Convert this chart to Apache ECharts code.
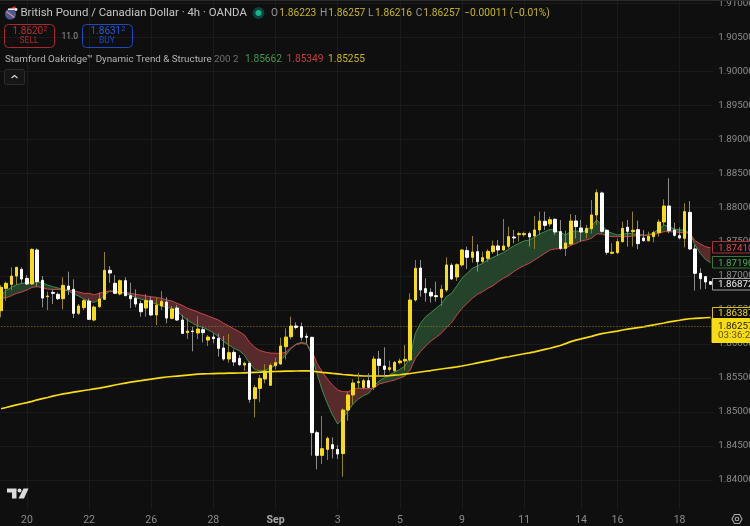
<!DOCTYPE html>
<html>
<head>
<meta charset="utf-8">
<style>
  html, body { margin: 0; padding: 0; background: #0f0f0f; overflow: hidden; }
  #main { width: 750px; height: 526px; }
</style>
<script src="https://cdn.jsdelivr.net/npm/echarts@6/dist/echarts.min.js"></script>
</head>
<body>
<div id="main"></div>
<script>
const opens = [
  1.86487,1.86815,1.86874,1.86996,1.87094,1.86962,1.86879,1.87378,1.86933,1.86693,
  1.86756,1.86727,1.86663,1.86849,1.86800,1.86448,1.86531,1.86629,1.86350,1.86546,
  1.86654,1.87080,1.86889,1.86732,1.86928,1.86707,1.86668,1.86590,1.86526,1.86634,
  1.86424,1.86556,1.86614,1.86375,1.86526,1.86350,1.86164,1.86188,1.86159,1.86208,
  1.86056,1.86100,1.86081,1.85939,1.85777,1.85875,1.85787,1.85689,1.85714,1.85195,
  1.85346,1.85484,1.85391,1.85679,1.85704,1.85958,1.86105,1.86262,1.86252,1.86110,
  1.86096,1.84695,1.84362,1.84450,1.84519,1.84450,1.84387,1.85028,1.85249,1.85430,
  1.85361,1.85459,1.85366,1.85777,1.85674,1.85625,1.85606,1.85723,1.85748,1.85763,
  1.86644,1.87114,1.86811,1.86757,1.86708,1.86684,1.86791,1.87154,1.86982,1.87159,
  1.87369,1.87271,1.87354,1.87212,1.87256,1.87354,1.87438,1.87379,1.87433,1.87570,
  1.87604,1.87604,1.87619,1.87584,1.87673,1.87800,1.87761,1.87829,1.87648,1.87403,
  1.87467,1.87805,1.87702,1.87634,1.87692,1.87893,1.88216,1.87668,1.87330,1.87340,
  1.87501,1.87712,1.87648,1.87678,1.87555,1.87516,1.87575,1.87634,1.87790,1.88025,
  1.87673,1.87589,1.87550,1.87932,1.87394,1.87036,1.86987,1.86914,
];
const closes = [
  1.86830,1.86889,1.86996,1.87124,1.86952,1.86879,1.87388,1.86913,1.86673,1.86703,
  1.86742,1.86663,1.86859,1.86800,1.86448,1.86556,1.86634,1.86360,1.86541,1.86659,
  1.87080,1.87040,1.86742,1.86928,1.86707,1.86663,1.86585,1.86472,1.86639,1.86424,
  1.86570,1.86624,1.86379,1.86512,1.86350,1.86154,1.86188,1.86179,1.86218,1.86164,
  1.86100,1.86076,1.85934,1.85777,1.85870,1.85733,1.85694,1.85714,1.85185,1.85356,
  1.85493,1.85601,1.85684,1.85723,1.85968,1.86100,1.86262,1.86242,1.86096,1.86096,
  1.84695,1.84362,1.84460,1.84612,1.84460,1.84382,1.85028,1.85249,1.85425,1.85444,
  1.85459,1.85361,1.85777,1.85684,1.85625,1.85650,1.85728,1.85748,1.85772,1.86644,
  1.87110,1.86791,1.86752,1.86703,1.86693,1.86801,1.87159,1.86953,1.87163,1.87379,
  1.87271,1.87349,1.87207,1.87266,1.87359,1.87438,1.87379,1.87438,1.87575,1.87555,
  1.87619,1.87619,1.87570,1.87673,1.87805,1.87741,1.87824,1.87643,1.87403,1.87482,
  1.87805,1.87722,1.87643,1.87697,1.87893,1.88221,1.87653,1.87345,1.87345,1.87501,
  1.87697,1.87653,1.87668,1.87472,1.87516,1.87580,1.87634,1.87790,1.88025,1.87663,
  1.87594,1.87555,1.87942,1.87394,1.87036,1.86958,1.86909,1.86875,
];
const lows = [
  1.86389,1.86634,1.86791,1.86864,1.86889,1.86864,1.86864,1.86840,1.86536,1.86497,
  1.86585,1.86644,1.86507,1.86717,1.86379,1.86424,1.86497,1.86350,1.86330,1.86526,
  1.86644,1.86898,1.86732,1.86712,1.86703,1.86526,1.86536,1.86399,1.86399,1.86409,
  1.86277,1.86497,1.86301,1.86360,1.86340,1.86144,1.86071,1.85890,1.86071,1.86022,
  1.85968,1.86007,1.85812,1.85753,1.85723,1.85674,1.85674,1.85601,1.85136,1.84920,
  1.85141,1.85420,1.85381,1.85625,1.85689,1.85772,1.86066,1.86213,1.86047,1.86007,
  1.84357,1.84157,1.84235,1.84294,1.84318,1.84308,1.84049,1.84872,1.85116,1.85342,
  1.85332,1.85346,1.85322,1.85542,1.85528,1.85591,1.85586,1.85699,1.85616,1.85739,
  1.86620,1.86693,1.86620,1.86605,1.86620,1.86556,1.86762,1.86938,1.86923,1.87134,
  1.87100,1.87193,1.87061,1.87183,1.87207,1.87320,1.87291,1.87369,1.87403,1.87477,
  1.87501,1.87575,1.87428,1.87394,1.87599,1.87673,1.87722,1.87599,1.87379,1.87291,
  1.87447,1.87550,1.87501,1.87550,1.87624,1.87746,1.87634,1.87306,1.87315,1.87320,
  1.87487,1.87428,1.87428,1.87389,1.87501,1.87501,1.87492,1.87575,1.87746,1.87624,
  1.87575,1.87536,1.87418,1.87379,1.86782,1.86801,1.86806,1.86865,
];
const highs = [
  1.86864,1.86913,1.87124,1.87133,1.87124,1.87011,1.87403,1.87403,1.86996,1.86766,
  1.86800,1.86756,1.86977,1.87060,1.86947,1.86585,1.86663,1.86668,1.86566,1.86756,
  1.87349,1.87143,1.87011,1.86947,1.86977,1.86898,1.86800,1.86634,1.86732,1.86693,
  1.86678,1.86776,1.86683,1.86556,1.86570,1.86424,1.86375,1.86252,1.86404,1.86252,
  1.86130,1.86154,1.86154,1.86115,1.86144,1.85919,1.85836,1.85738,1.85738,1.85395,
  1.85542,1.85704,1.85714,1.85797,1.86091,1.86228,1.86399,1.86316,1.86311,1.86154,
  1.86105,1.84725,1.84940,1.84637,1.84627,1.84514,1.85053,1.85297,1.85479,1.85577,
  1.85484,1.85567,1.85821,1.85895,1.85949,1.85753,1.85748,1.85787,1.85983,1.86742,
  1.87232,1.87232,1.86963,1.86816,1.86914,1.86865,1.87271,1.87183,1.87183,1.87389,
  1.87428,1.87584,1.87462,1.87354,1.87389,1.87516,1.87526,1.87834,1.87722,1.87673,
  1.87648,1.87648,1.87648,1.87878,1.87942,1.87942,1.87868,1.87844,1.87819,1.87663,
  1.87908,1.87893,1.87820,1.87746,1.88113,1.88270,1.88236,1.87682,1.87477,1.87550,
  1.87795,1.87820,1.87942,1.87810,1.87673,1.87648,1.87663,1.87829,1.88123,1.88432,
  1.87780,1.87712,1.88064,1.88099,1.87452,1.87110,1.86997,1.86914,
];

// indicator lines
const greenLine = [
  1.86717,1.86781,1.86830,1.86869,1.86889,1.86898,1.86903,1.86913,1.86898,1.86864,
  1.86840,1.86820,1.86800,1.86776,1.86732,1.86703,1.86659,1.86624,1.86610,1.86644,
  1.86717,1.86776,1.86776,1.86766,1.86742,1.86717,1.86678,1.86659,1.86634,1.86605,
  1.86590,1.86556,1.86536,1.86521,1.86482,1.86409,1.86350,1.86301,1.86262,1.86242,
  1.86203,1.86164,1.86105,1.86032,1.85983,1.85934,1.85900,1.85836,1.85714,1.85625,
  1.85601,1.85616,1.85640,1.85689,1.85763,1.85836,1.85934,1.85998,1.86022,1.86007,
  1.85836,1.85567,1.85322,1.85126,1.84955,1.84823,1.84906,1.85013,1.85116,1.85190,
  1.85239,1.85273,1.85381,1.85454,1.85498,1.85542,1.85586,1.85625,1.85674,1.85812,
  1.86155,1.86302,1.86400,1.86458,1.86522,1.86586,1.86693,1.86742,1.86850,1.86963,
  1.87036,1.87110,1.87144,1.87183,1.87232,1.87271,1.87305,1.87340,1.87389,1.87438,
  1.87477,1.87511,1.87526,1.87565,1.87614,1.87648,1.87682,1.87673,1.87633,1.87599,
  1.87650,1.87658,1.87648,1.87663,1.87722,1.87820,1.87746,1.87658,1.87624,1.87599,
  1.87609,1.87624,1.87614,1.87614,1.87599,1.87599,1.87634,1.87682,1.87746,1.87722,
  1.87687,1.87673,1.87673,1.87614,1.87452,1.87330,1.87242,1.87190,
];
const redLine = [
  1.86673,1.86678,1.86707,1.86742,1.86761,1.86791,1.86830,1.86840,1.86825,1.86805,
  1.86800,1.86800,1.86791,1.86791,1.86776,1.86761,1.86742,1.86742,1.86722,1.86742,
  1.86766,1.86776,1.86756,1.86756,1.86756,1.86742,1.86727,1.86717,1.86703,1.86693,
  1.86683,1.86668,1.86644,1.86629,1.86595,1.86566,1.86522,1.86497,1.86468,1.86438,
  1.86409,1.86379,1.86350,1.86301,1.86262,1.86218,1.86179,1.86130,1.86022,1.85949,
  1.85900,1.85880,1.85865,1.85861,1.85861,1.85875,1.85944,1.85988,1.86007,1.85993,
  1.85909,1.85714,1.85591,1.85484,1.85395,1.85322,1.85297,1.85297,1.85332,1.85351,
  1.85342,1.85342,1.85351,1.85410,1.85430,1.85449,1.85469,1.85498,1.85528,1.85616,
  1.85788,1.85886,1.85969,1.86042,1.86096,1.86155,1.86238,1.86312,1.86424,1.86522,
  1.86595,1.86669,1.86728,1.86767,1.86816,1.86855,1.86914,1.86963,1.87002,1.87061,
  1.87110,1.87149,1.87183,1.87232,1.87281,1.87330,1.87379,1.87394,1.87398,1.87408,
  1.87445,1.87475,1.87511,1.87526,1.87550,1.87614,1.87614,1.87585,1.87575,1.87575,
  1.87575,1.87575,1.87585,1.87589,1.87589,1.87599,1.87609,1.87624,1.87648,1.87648,
  1.87643,1.87638,1.87633,1.87624,1.87516,1.87467,1.87428,1.87410,
];
const yellowLine = [
  1.85046,1.85065,1.85085,1.85103,1.85120,1.85136,1.85155,1.85178,1.85195,1.85212,
  1.85232,1.85248,1.85264,1.85277,1.85290,1.85303,1.85315,1.85326,1.85338,1.85350,
  1.85364,1.85380,1.85395,1.85410,1.85424,1.85438,1.85450,1.85460,1.85472,1.85483,
  1.85493,1.85503,1.85513,1.85520,1.85527,1.85534,1.85541,1.85548,1.85554,1.85558,
  1.85561,1.85563,1.85565,1.85567,1.85569,1.85571,1.85572,1.85575,1.85578,1.85581,
  1.85584,1.85588,1.85591,1.85594,1.85596,1.85598,1.85600,1.85601,1.85602,1.85603,
  1.85598,1.85590,1.85582,1.85575,1.85566,1.85558,1.85550,1.85544,1.85538,1.85533,
  1.85528,1.85528,1.85528,1.85528,1.85530,1.85534,1.85540,1.85546,1.85555,1.85564,
  1.85575,1.85586,1.85597,1.85608,1.85620,1.85631,1.85642,1.85652,1.85662,1.85675,
  1.85689,1.85704,1.85720,1.85736,1.85750,1.85765,1.85782,1.85797,1.85810,1.85825,
  1.85840,1.85855,1.85868,1.85882,1.85900,1.85918,1.85935,1.85955,1.85975,1.86003,
  1.86033,1.86054,1.86072,1.86091,1.86110,1.86132,1.86151,1.86163,1.86175,1.86188,
  1.86203,1.86215,1.86227,1.86239,1.86250,1.86265,1.86278,1.86292,1.86306,1.86322,
  1.86335,1.86347,1.86360,1.86369,1.86374,1.86379,1.86383,1.86387,
];

const xTickIndexes = [5, 17, 29, 41, 53, 65, 77, 89, 101, 112, 119, 131];
const xTickLabels = ["20", "22", "26", "28", "Sep", "3", "5", "9", "11", "14", "16", "18"];
const yTicks = [1.84, 1.845, 1.85, 1.855, 1.86, 1.865, 1.87, 1.875, 1.88, 1.885, 1.89, 1.895, 1.9, 1.905, 1.91];
const lastPrice = 1.86257;

const categories = opens.map((_, i) => {
  const t = xTickIndexes.indexOf(i);
  return t >= 0 ? xTickLabels[t] : `c${i}`;
});

// runs of segments where the same line stays on top, one filled shape each
const segUp = greenLine.slice(0, -1).map((g, i) => g + greenLine[i + 1] > redLine[i] + redLine[i + 1]);
const bandRuns = [];
segUp.forEach((up, i) => {
  if (i > 0 && segUp[i - 1] === up) {
    bandRuns[bandRuns.length - 1][1] = i + 1;
  } else {
    bandRuns.push([i, i + 1]);
  }
});

const FONT = "Roboto, 'Noto Sans', sans-serif";
const YELLOW = "#f8dc14";

const myChart = echarts.init(document.getElementById("main"), null, { renderer: "canvas" });

function txt(text, x, y, fill, size, extra) {
  return {
    type: "text",
    silent: true,
    z: 50,
    style: Object.assign({
      text, x, y, fill,
      font: `${(extra && extra.weight) || 400} ${size}px ${FONT}`,
      verticalAlign: "middle",
      align: "left",
    }, extra && extra.style),
  };
}

function box(x, y, width, height, stroke, fill, r) {
  return {
    type: "rect",
    silent: true,
    z: 49,
    shape: { x, y, width, height, r: r || 0 },
    style: { stroke, fill: fill || "transparent", lineWidth: 1 },
  };
}

myChart.setOption({
  backgroundColor: "#0f0f0f",
  animation: false,
  grid: { left: -1.6, right: 36.8, top: 0, bottom: 17, outerBoundsMode: "none" },
  xAxis: {
    type: "category",
    data: categories,
    boundaryGap: true,
    axisLine: { show: false },
    axisTick: { show: false, alignWithLabel: true, interval: (i) => xTickIndexes.includes(i) },
    splitLine: {
      show: true,
      alignWithLabel: true,
      interval: (i) => xTickIndexes.includes(i),
      lineStyle: { color: "#1b1b1b", width: 1 },
    },
    axisLabel: {
      interval: (i) => xTickIndexes.includes(i),
      color: "#8c8c8c",
      fontFamily: FONT,
      fontSize: 10.5,
      margin: 6,
      formatter: (v) => (v === "Sep" ? "{b|Sep}" : v),
      rich: { b: { fontWeight: 700, color: "#a8a8a8", fontSize: 10.5, fontFamily: FONT } },
    },
  },
  yAxis: {
    type: "value",
    position: "right",
    scale: true,
    min: 1.83574,
    max: 1.91051,
    axisLine: { show: false },
    axisTick: { show: false, customValues: yTicks },
    splitLine: { show: true, lineStyle: { color: "#1b1b1b", width: 1 } },
    axisLabel: {
      customValues: yTicks,
      color: "#8c8c8c",
      fontFamily: FONT,
      fontSize: 9.8,
      margin: 5,
      padding: [2, 0, 0, 0],
      formatter: (v) => v.toFixed(5),
    },
  },
  series: [
    {
      // filled ribbon between the green and the red line
      type: "custom",
      z: 2,
      silent: true,
      encode: { x: [0, 1] },
      data: bandRuns,
      renderItem: (params, api) => {
        const start = api.value(0);
        const end = api.value(1);
        const top = [];
        const bottom = [];
        for (let i = start; i <= end; i++) {
          top.push(api.coord([i, greenLine[i]]));
          bottom.unshift(api.coord([i, redLine[i]]));
        }
        return {
          type: "polygon",
          shape: { points: top.concat(bottom) },
          style: { fill: segUp[start] ? "#24432a" : "#582a2c" },
        };
      },
    },
    {
      type: "line",
      z: 3,
      data: greenLine,
      showSymbol: false,
      silent: true,
      lineStyle: { color: "#3f8f4c", width: 1 },
    },
    {
      type: "line",
      z: 3,
      data: redLine,
      showSymbol: false,
      silent: true,
      lineStyle: { color: "#c8474b", width: 1 },
    },
    {
      type: "line",
      z: 4,
      data: yellowLine,
      showSymbol: false,
      silent: true,
      lineStyle: { color: YELLOW, width: 1.7 },
      markLine: {
        silent: true,
        symbol: "none",
        animation: false,
        precision: 5,
        label: { show: false },
        lineStyle: { color: "#8f7f18", type: [1, 2], width: 1 },
        data: [{ yAxis: lastPrice }],
      },
    },
    {
      // wicks, they are dimmer than the bodies
      type: "candlestick",
      z: 5,
      silent: true,
      barWidth: 1,
      data: opens.map((o, i) => [o, closes[i], lows[i], highs[i]]),
      itemStyle: {
        color: "#8f8320",
        color0: "#8d8d8d",
        borderColor: "#8f8320",
        borderColor0: "#8d8d8d",
        borderWidth: 1,
      },
    },
    {
      // bodies
      type: "candlestick",
      z: 6,
      silent: true,
      barWidth: 3,
      data: opens.map((o, i) => [o, closes[i], Math.min(o, closes[i]), Math.max(o, closes[i])]),
      itemStyle: {
        color: YELLOW,
        color0: "#ffffff",
        borderColor: YELLOW,
        borderColor0: "#ffffff",
        borderWidth: 1,
      },
    },
  ],
});

// price tags sit on the axis, so ask the axis where they go
const py = (v) => myChart.convertToPixel({ yAxisIndex: 0 }, v);
const TAG_X = 712.5;

function tag(text, price, stroke, color, dy) {
  const y = py(price) + (dy || 0);
  return [box(TAG_X, Math.round(y - 5.5) - 0.5, 46, 11.5, stroke, "#0f0f0f"), txt(text, 718, y + 0.5, color, 9.8)];
}

const elements = [
  { type: "rect", silent: true, z: 48, shape: { x: 0, y: 0, width: 750, height: 1 }, style: { fill: "#2b2b2b" } },

  // flag with the hat
  { type: "circle", silent: true, z: 49, shape: { cx: 10.5, cy: 14, r: 5.5 }, style: { fill: "#4b5a8f" } },
  { type: "polygon", silent: true, z: 49, shape: { points: [[7, 11], [15, 17], [14, 18], [6, 12]] }, style: { fill: "#cf8a93" } },
  { type: "polygon", silent: true, z: 50, shape: { points: [[9, 9], [15, 6], [17, 11]] }, style: { fill: "#d4323a" } },
  { type: "circle", silent: true, z: 50, shape: { cx: 16, cy: 9.5, r: 1.4 }, style: { fill: "#eeeeee" } },
  { type: "rect", silent: true, z: 50, shape: { x: 8, y: 8.5, width: 7, height: 1.5 }, style: { fill: "#e8e8e8" } },

  txt("British Pound / Canadian Dollar · 4h · OANDA", 20.5, 13.5, "#c6c6c6", 11.4),
  { type: "circle", silent: true, z: 49, shape: { cx: 258.5, cy: 13, r: 6 }, style: { fill: "#10403a" } },
  { type: "circle", silent: true, z: 50, shape: { cx: 258.5, cy: 13, r: 3 }, style: { fill: "#12b58c" } },

  txt("O", 271, 13.5, "#9a9a9a", 10.2),
  txt("1.86223", 279.3, 13.5, "#c9b81a", 10.2),
  txt("H", 320, 13.5, "#9a9a9a", 10.2),
  txt("1.86257", 328.3, 13.5, "#c9b81a", 10.2),
  txt("L", 368, 13.5, "#9a9a9a", 10.2),
  txt("1.86216", 375, 13.5, "#c9b81a", 10.2),
  txt("C", 415.7, 13.5, "#9a9a9a", 10.2),
  txt("1.86257", 423.3, 13.5, "#c9b81a", 10.2),
  txt("−0.00011 (−0.01%)", 464.3, 13.5, "#c9b81a", 10.2),

  box(4.5, 24.5, 50, 23, "#a92830", "transparent", 4),
  txt("1.8620", 12.5, 31.5, "#b92d35", 10),
  txt("2", 43.5, 29.5, "#b92d35", 6.5),
  txt("SELL", 19.5, 41, "#a92830", 8.5),
  txt("11.0", 61.5, 36.5, "#9a9a9a", 8.5),
  box(82.5, 24.5, 50, 23, "#1f48c4", "transparent", 4),
  txt("1.8631", 90.5, 31.5, "#2a5ad6", 10),
  txt("2", 121.5, 29.5, "#2a5ad6", 6.5),
  txt("BUY", 99, 41, "#1f48c4", 8.5),

  txt("Stamford Oakridge™ Dynamic Trend & Structure", 5, 59.5, "#b4b4b4", 9.8),
  txt("200 2", 214, 59.5, "#6f6f6f", 9.8),
  txt("1.85662", 245, 59.5, "#3f9a4a", 10.2),
  txt("1.85349", 286.5, 59.5, "#c43a3e", 10.2),
  txt("1.85255", 328, 59.5, "#c9b81a", 10.2),

  box(4.5, 69.5, 20, 15, "#2e2e2e", "#161616", 2),
  {
    type: "polyline",
    silent: true,
    z: 50,
    shape: { points: [[11.5, 78], [14.5, 75.5], [17.5, 78]] },
    style: { stroke: "#d8d8d8", lineWidth: 1.2, fill: "none" },
  },

  // logo bottom left
  { type: "polygon", silent: true, z: 49, shape: { points: [[7, 488.5], [16.5, 488.5], [16.5, 498.5], [12, 498.5], [12, 492.5], [7, 492.5]] }, style: { fill: "#dcdcdc" } },
  { type: "circle", silent: true, z: 49, shape: { cx: 19.5, cy: 490.5, r: 2 }, style: { fill: "#dcdcdc" } },
  { type: "polygon", silent: true, z: 49, shape: { points: [[23.5, 488.5], [28.5, 488.5], [24, 498.5], [18.5, 498.5]] }, style: { fill: "#dcdcdc" } },

  // settings icon bottom right
  {
    type: "polygon",
    silent: true,
    z: 49,
    shape: { points: [[732, 519], [734.5, 514.5], [739.5, 514.5], [742, 519], [739.5, 523.5], [734.5, 523.5]] },
    style: { stroke: "#a8a8a8", lineWidth: 1.1, fill: "transparent" },
  },
  { type: "circle", silent: true, z: 49, shape: { cx: 737, cy: 519, r: 1.8 }, style: { stroke: "#a8a8a8", lineWidth: 1.1, fill: "transparent" } },
];

elements.push(...tag("1.87410", redLine[redLine.length - 1], "#a83236", "#e0484c"));
elements.push(...tag("1.87190", greenLine[greenLine.length - 1], "#2f7a3c", "#4cae58"));
elements.push(...tag("1.86872", closes[closes.length - 1], "#a0a0a0", "#eeeeee"));
elements.push(...tag("1.86387", yellowLine[yellowLine.length - 1], "#d4c11a", "#ecd81e", -4));
elements.push(box(TAG_X - 0.5, 318.5, 47, 24, YELLOW, YELLOW));
elements.push(txt("1.86257", 718, py(lastPrice) + 0.5, "#1b1b06", 9.8));
elements.push(txt("03:36:22", 718, 336, "#5a5205", 9.8));

myChart.setOption({ graphic: { elements } });
</script>
</body>
</html>
